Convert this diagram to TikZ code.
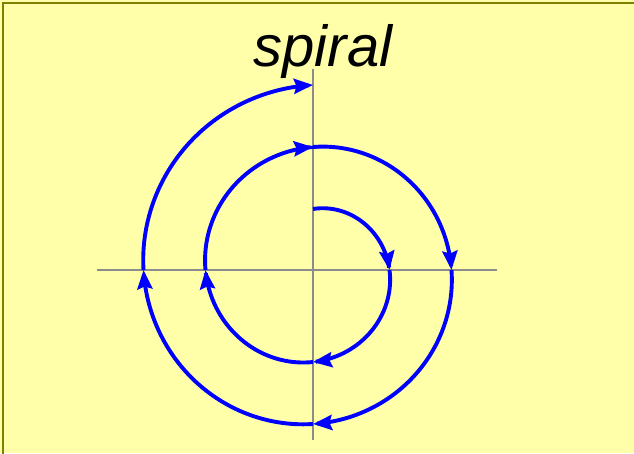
\documentclass[tikz,border=0pt]{standalone}
\usepackage{fontspec}
\setmainfont{Liberation Sans}
\usetikzlibrary{arrows.meta}
\definecolor{bgyellow}{HTML}{FFFFAA}
\definecolor{frameolive}{HTML}{808000}
\definecolor{axisgray}{HTML}{8C8C8C}
\tikzset{
  axisline/.style={draw=axisgray, line width=2pt},
  spiralline/.style={draw=blue, line width=3.9pt, -{Stealth[inset=2.5pt,length=19pt,width=15pt]}},
  titletext/.style={font=\itshape\fontsize{58}{60}\selectfont, anchor=base, inner sep=0pt}
}
\begin{document}
\begin{tikzpicture}[x=1pt,y=1pt]
  \useasboundingbox (-313,270) rectangle (321,-183);
  \fill[bgyellow] (-313,270) rectangle (321,-183);
  \draw[frameolive, line width=2.6pt] (-310,267) rectangle (340,-200);
  \coordinate (O) at (0,0);
  \coordinate (xl) at (-216,0);
  \coordinate (xr) at (184,0);
  \coordinate (yt) at (0,201);
  \coordinate (yb) at (0,-170);
  \draw[axisline] (xl) -- (xr);
  \draw[axisline] (yt) -- (yb);
  \node[titletext] (title) at (10,203) {spiral};
  \foreach \k in {0,...,7} {
    \draw[spiralline] plot[domain={90-90*\k}:{-90*\k}, samples=40, smooth] (\x:{61+15.5*(90-\x)/90});
  }
\end{tikzpicture}
\end{document}
